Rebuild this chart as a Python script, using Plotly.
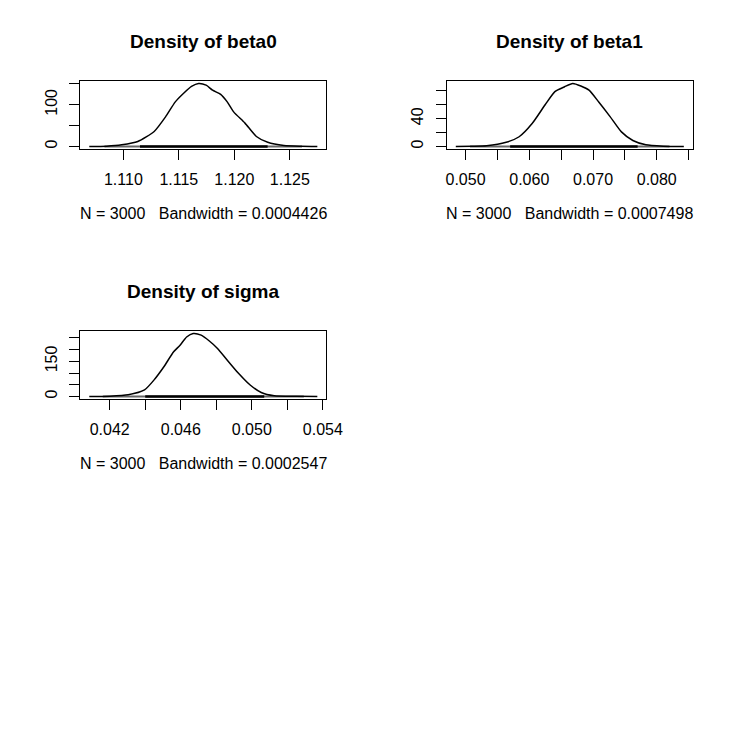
import plotly.graph_objects as go

# ---- data ----
beta0_x = [1.10693, 1.1085, 1.10985, 1.1113, 1.11278, 1.1138, 1.11468, 1.11541, 1.11614, 1.11678,
           1.11746, 1.11804, 1.11877, 1.11936, 1.11994, 1.12096, 1.12199, 1.12301, 1.12447, 1.1260, 1.12748]
beta0_y = [0, 0.8, 4, 12, 36, 71, 107, 127, 144, 151, 147, 135, 125, 107, 83, 56, 24, 10, 2.4, 0.6, 0]

beta1_x = [0.04847, 0.0510, 0.05332, 0.05638, 0.05841, 0.06045, 0.06249, 0.06402, 0.06555, 0.06682,
           0.06809, 0.06937, 0.0709, 0.07268, 0.07446, 0.07625, 0.07829, 0.0810, 0.08425]
beta1_y = [0, 0.3, 1, 6, 14, 33, 60, 79, 86, 90.6, 87, 81, 64, 43, 21, 8.6, 2.4, 0.5, 0]

sigma_x = [0.04085, 0.0420, 0.04304, 0.04396, 0.0445, 0.04505, 0.0456, 0.04596, 0.04633, 0.0467,
           0.04715, 0.04761, 0.04807, 0.04861, 0.04925, 0.04989, 0.05053, 0.05126, 0.0525, 0.05369]
sigma_y = [0, 1.5, 7, 28, 71, 127, 191, 219, 254, 269, 262, 237, 205, 156, 99, 50, 17, 3, 0.8, 0]

# observation (rug) extents: [sparse_lo, dense_lo, dense_hi, sparse_hi]
beta0_rug = [1.1083, 1.1115, 1.1230, 1.1261]
beta1_rug = [0.0507, 0.0570, 0.0770, 0.0820]
sigma_rug = [0.04161, 0.0440, 0.0507, 0.05293]

titles = ["Density of beta0", "Density of beta1", "Density of sigma"]
subtitles = ["N = 3000&nbsp;&nbsp; Bandwidth = 0.0004426",
             "N = 3000&nbsp;&nbsp; Bandwidth = 0.0007498",
             "N = 3000&nbsp;&nbsp; Bandwidth = 0.0002547"]

x_tickvals = [[1.110, 1.115, 1.120, 1.125],
              [0.050, 0.055, 0.060, 0.065, 0.070, 0.075, 0.080, 0.085],
              [0.042, 0.044, 0.046, 0.048, 0.050, 0.052, 0.054]]
x_ticktext = [["1.110", "1.115", "1.120", "1.125"],
              ["0.050", "", "0.060", "", "0.070", "", "0.080", ""],
              ["0.042", "", "0.046", "", "0.050", "", "0.054"]]
y_tickvals = [[0, 50, 100, 150],
              [0, 20, 40, 60, 80],
              [0, 50, 100, 150, 200, 250]]
y_ticktext = [["0", "", "100", ""],
              ["0", "", "40", "", ""],
              ["0", "", "", "150", "", ""]]

# ---- layout geometry (pixels in a 750x750 page) ----
W = H = 750
boxes = [(81, 333, 81, 149), (456, 708, 81, 149), (81, 333, 331, 399)]

FONT = "Liberation Sans, Arial, Helvetica, sans-serif"

fig = go.Figure()
layout = dict(width=W, height=H, margin=dict(l=0, r=0, t=0, b=0),
              paper_bgcolor="white", plot_bgcolor="white", showlegend=False,
              font=dict(family=FONT, size=16, color="black"))
annotations = []

series = [(beta0_x, beta0_y, beta0_rug), (beta1_x, beta1_y, beta1_rug), (sigma_x, sigma_y, sigma_rug)]
for i, (xs, ys, rug) in enumerate(series):
    k = "" if i == 0 else str(i + 1)
    xa, ya = "x" + k, "y" + k
    fig.add_trace(go.Scatter(x=[rug[0], rug[3]], y=[0, 0], mode="lines", xaxis=xa, yaxis=ya,
                             line=dict(color="#666666", width=1.8), hoverinfo="skip"))
    fig.add_trace(go.Scatter(x=[rug[1], rug[2]], y=[0, 0], mode="lines", xaxis=xa, yaxis=ya,
                             line=dict(color="black", width=2.6), hoverinfo="skip"))
    fig.add_trace(go.Scatter(x=xs, y=ys, mode="lines", xaxis=xa, yaxis=ya,
                             line=dict(color="black", width=1.5, shape="spline", smoothing=0.6)))
    xmin, xmax = min(xs), max(xs)
    span = xmax - xmin
    ymax = max(ys)
    l, r, t, b = boxes[i]
    common = dict(showline=True, linecolor="black", linewidth=1, mirror=True, showgrid=False,
                  zeroline=False, ticks="outside", ticklen=10, tickcolor="black", tickwidth=1,
                  tickfont=dict(family=FONT, size=16, color="black"))
    layout["xaxis" + k] = dict(domain=[l / W, r / W], anchor=ya,
                               range=[xmin - 0.04 * span, xmax + 0.04 * span],
                               tickmode="array", tickvals=x_tickvals[i], ticktext=x_ticktext[i],
                               ticklabelstandoff=6, **common)
    layout["yaxis" + k] = dict(domain=[1 - b / H, 1 - t / H], anchor=xa,
                               range=[-0.04 * ymax, 1.04 * ymax],
                               tickmode="array", tickvals=y_tickvals[i], ticktext=y_ticktext[i],
                               tickangle=-90, ticklabelstandoff=6, **common)
    cx = (l + r) / 2 / W
    annotations.append(dict(text="<b>" + titles[i] + "</b>", x=cx, y=1 - (t - 39.5) / H,
                            xref="paper", yref="paper", showarrow=False, xanchor="center",
                            yanchor="middle", font=dict(family=FONT, size=19, color="black")))
    annotations.append(dict(text=subtitles[i], x=cx, y=1 - (b + 64.5) / H,
                            xref="paper", yref="paper", showarrow=False, xanchor="center",
                            yanchor="middle", font=dict(family=FONT, size=16, color="black")))

layout["annotations"] = annotations
fig.update_layout(**layout)
fig.write_html("out.html")
